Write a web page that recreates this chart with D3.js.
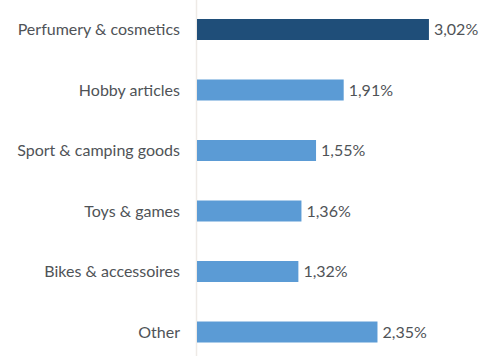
<!DOCTYPE html>
<html>
<head>
<meta charset="utf-8">
<script src="https://cdn.jsdelivr.net/npm/d3@7"></script>
<style>
  html, body { margin: 0; padding: 0; background: #ffffff; }
  svg { display: block; }
  text { font-family: Lato, "Open Sans", sans-serif; fill: #4f5357; }
</style>
</head>
<body>
<svg id="chart" width="491" height="356"></svg>
<script>
// Share of online sales by product category (%)
const categories = [
  "Perfumery & cosmetics",
  "Hobby articles",
  "Sport & camping goods",
  "Toys & games",
  "Bikes & accessoires",
  "Other"
];
const values = [3.02, 1.91, 1.55, 1.36, 1.32, 2.35];
const valueLabels = ["3,02%", "1,91%", "1,55%", "1,36%", "1,32%", "2,35%"];
const highlighted = ["Perfumery & cosmetics"];

const width = 491, height = 356;
const plotLeft = 197;

const svg = d3.select("#chart");

const x = d3.scaleLinear()
  .domain([0, 4])
  .range([plotLeft, plotLeft + 4 * 76.8]);

const y = d3.scaleBand()
  .domain(categories)
  .range([19, 342.5])
  .paddingInner(0.653)
  .paddingOuter(0);

// faint category axis line
svg.append("line")
  .attr("x1", x(0) - 0.5).attr("x2", x(0) - 0.5)
  .attr("y1", 0).attr("y2", height)
  .attr("stroke", "#eeeae6")
  .attr("stroke-width", 1.5);

svg.append("g")
  .selectAll("rect")
  .data(categories)
  .join("rect")
  .attr("x", x(0))
  .attr("y", d => y(d))
  .attr("width", (d, i) => x(values[i]) - x(0))
  .attr("height", y.bandwidth())
  .attr("fill", d => highlighted.includes(d) ? "#1f4e79" : "#5b9bd5");

// category labels
svg.append("g")
  .selectAll("text")
  .data(categories)
  .join("text")
  .attr("x", x(0) - 17)
  .attr("y", d => y(d) + y.bandwidth() / 2)
  .attr("dy", "0.35em")
  .attr("text-anchor", "end")
  .attr("font-size", 16)
  .text(d => d);

// value labels
svg.append("g")
  .selectAll("text")
  .data(categories)
  .join("text")
  .attr("x", (d, i) => x(values[i]) + 5)
  .attr("y", d => y(d) + y.bandwidth() / 2)
  .attr("dy", "0.35em")
  .attr("font-size", 16)
  .text((d, i) => valueLabels[i]);
</script>
</body>
</html>
